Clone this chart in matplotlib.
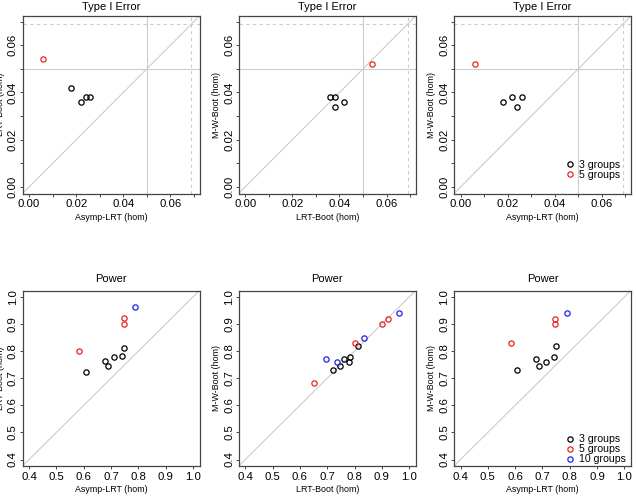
import numpy as np
import matplotlib
matplotlib.use('Agg')
import matplotlib.pyplot as plt
from matplotlib.lines import Line2D

plt.rcParams['font.family'] = ['Liberation Sans', 'DejaVu Sans']

# Type I error rates (3 groups black, 5 groups red)
t1_asymp_3 = [0.018, 0.022, 0.024, 0.026]
t1_lrt_3 = [0.042, 0.036, 0.038, 0.038]
t1_mw_3 = [0.036, 0.038, 0.034, 0.038]
t1_asymp_5 = [0.006]
t1_lrt_5 = [0.054]
t1_mw_5 = [0.052]

# Power (3, 5, 10 groups); nan = not available
pw_asymp_3 = [0.749, 0.741, 0.712, 0.678, 0.688, 0.608]
pw_lrt_3 = [0.812, 0.783, 0.780, 0.762, 0.746, 0.723]
pw_mw_3 = [0.820, 0.777, 0.760, 0.770, 0.747, 0.731]
pw_asymp_5 = [0.746, 0.746, 0.584, np.nan]
pw_lrt_5 = [0.922, 0.901, 0.801, 0.650]
pw_mw_5 = [0.920, 0.899, 0.831, 0.681]
pw_asymp_10 = [0.788, np.nan, np.nan, np.nan]
pw_lrt_10 = [0.962, 0.835, 0.735, 0.694]
pw_mw_10 = [0.940, 0.849, 0.760, 0.770]

nominal = 0.05
upper = 0.069

W, H = 636, 496
fig = plt.figure(figsize=(W / 100, H / 100), dpi=100)

col_x = [22.5, 238.7, 454]
aw = 177
row_top = [16, 290.5]
ah = [177.5, 175.5]

grey = '#cccccc'
colors = {'3': 'black', '5': '#ee2222', '10': '#2222ee'}


def make_ax(c, r):
    ax = fig.add_axes([col_x[c] / W, 1 - (row_top[r] + ah[r]) / H, aw / W, ah[r] / H])
    for s in ax.spines.values():
        s.set_color('#444444')
        s.set_linewidth(0.9)
    ax.tick_params(length=2.5, width=0.7, color='#444444', labelsize=8.2, pad=1.5)
    ax.tick_params(axis='y', labelrotation=90, pad=0.8)
    return ax


def pts(ax, x, y, key, label=None):
    ax.plot(x, y, 'o', ms=3.8, mfc='none', mec=colors[key], mew=0.9, ls='none', label=label)


def finish(ax, r, xlabel, ylabel, title):
    ax.set_title(title, fontsize=8, pad=4 if r == 0 else 6)
    ax.set_xlabel(xlabel, fontsize=6.4)
    ax.set_ylabel(ylabel, fontsize=6.4)
    ax.xaxis.set_label_coords(0.5, -23.5 / ah[r])
    ax.yaxis.set_label_coords(-22 / aw, 0.5)
    ax.xaxis.label.set_va('center')
    ax.yaxis.label.set_va('center')
    for lab in ax.get_yticklabels():
        lab.set_va('center')


def legend(ax, keys, labels):
    handles = [Line2D([], [], marker='o', ls='none', ms=3.8, mfc='none', mec=colors[k], mew=0.9) for k in keys]
    ax.legend(handles, labels, loc='upper left', bbox_to_anchor=(0.63, 0.19 if len(keys) == 2 else 0.18),
              frameon=False, fontsize=7.6, handlelength=0.8, handletextpad=0.5,
              labelspacing=0.0, borderpad=0, borderaxespad=0)


# top row: Type I error
t1_pairs = [
    (t1_asymp_3, t1_lrt_3, t1_asymp_5, t1_lrt_5, 'Asymp-LRT (hom)', 'LRT-Boot (hom)'),
    (t1_lrt_3, t1_mw_3, t1_lrt_5, t1_mw_5, 'LRT-Boot (hom)', 'M-W-Boot (hom)'),
    (t1_asymp_3, t1_mw_3, t1_asymp_5, t1_mw_5, 'Asymp-LRT (hom)', 'M-W-Boot (hom)'),
]
t1_ticks = np.arange(0, 0.0701, 0.01)
t1_labels = ['0.00' if i == 0 else ('%.2f' % v if i % 2 == 0 else '') for i, v in enumerate(t1_ticks)]
for c, (x3, y3, x5, y5, xl, yl) in enumerate(t1_pairs):
    ax = make_ax(c, 0)
    lim = (-0.0028, 0.0724)
    ax.set_xlim(lim)
    ax.set_ylim(lim)
    ax.axline((0, 0), slope=1, color=grey, lw=0.8, zorder=1)
    ax.axhline(nominal, color=grey, lw=0.8, zorder=1)
    ax.axvline(nominal, color=grey, lw=0.8, zorder=1)
    ax.axhline(upper, color=grey, lw=0.8, ls=(0, (3, 3)), zorder=1)
    ax.axvline(upper, color=grey, lw=0.8, ls=(0, (3, 3)), zorder=1)
    pts(ax, x3, y3, '3')
    pts(ax, x5, y5, '5')
    ax.set_xticks(t1_ticks)
    ax.set_xticklabels(t1_labels)
    ax.set_yticks(t1_ticks)
    ax.set_yticklabels(t1_labels)
    finish(ax, 0, xl, yl, 'Type I Error')
    if c == 2:
        legend(ax, ['3', '5'], ['3 groups', '5 groups'])

# bottom row: Power
pw_pairs = [
    ((pw_asymp_3, pw_lrt_3), (pw_asymp_5, pw_lrt_5), (pw_asymp_10, pw_lrt_10), 'Asymp-LRT (hom)', 'LRT-Boot (hom)'),
    ((pw_lrt_3, pw_mw_3), (pw_lrt_5, pw_mw_5), (pw_lrt_10, pw_mw_10), 'LRT-Boot (hom)', 'M-W-Boot (hom)'),
    ((pw_asymp_3, pw_mw_3), (pw_asymp_5, pw_mw_5), (pw_asymp_10, pw_mw_10), 'Asymp-LRT (hom)', 'M-W-Boot (hom)'),
]
pw_ticks = np.round(np.arange(0.4, 1.001, 0.1), 1)
for c, (g3, g5, g10, xl, yl) in enumerate(pw_pairs):
    ax = make_ax(c, 1)
    lim = (0.376, 1.024)
    ax.set_xlim(lim)
    ax.set_ylim(lim)
    ax.axline((0.4, 0.4), slope=1, color=grey, lw=0.8, zorder=1)
    pts(ax, *g3, '3')
    pts(ax, *g5, '5')
    pts(ax, *g10, '10')
    ax.set_xticks(pw_ticks)
    ax.set_xticklabels(['%.1f' % v for v in pw_ticks])
    ax.set_yticks(pw_ticks)
    ax.set_yticklabels(['%.1f' % v for v in pw_ticks])
    finish(ax, 1, xl, yl, 'Power')
    if c == 2:
        legend(ax, ['3', '5', '10'], ['3 groups', '5 groups', '10 groups'])

fig.savefig('out.png', dpi=100, facecolor='white')
